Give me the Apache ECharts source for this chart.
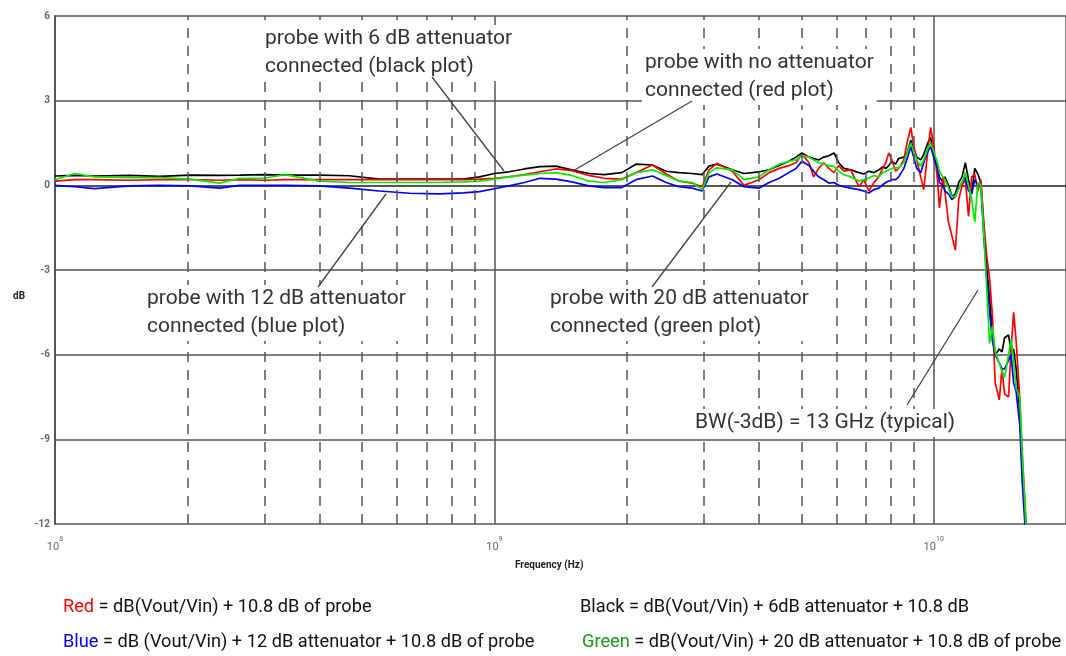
<!DOCTYPE html>
<html><head><meta charset="utf-8">
<script src="https://cdn.jsdelivr.net/npm/echarts@6/dist/echarts.min.js"></script>
<style>html,body{margin:0;padding:0;background:#fff;overflow:hidden;}#c{width:1066px;height:656px;}</style>
</head><body><div id="c"></div>
<script>
// Frequency points (Hz)
const freqHz = [
1e8,1.11e8,1.23e8,1.48e8,1.73e8,2.03e8,2.37e8,2.63e8,3.0e8,3.33e8,
4.0e8,4.68e8,5.47e8,6.41e8,7.5e8,8.5e8,9.25e8,1.0e9,1.08e9,1.17e9,
1.27e9,1.38e9,1.50e9,1.64e9,1.78e9,1.95e9,2.10e9,2.29e9,2.46e9,2.63e9,
2.82e9,2.97e9,3.08e9,3.21e9,3.48e9,3.70e9,4.0e9,4.22e9,4.45e9,4.68e9,
4.86e9,5.01e9,5.20e9,5.33e9,5.47e9,5.62e9,5.77e9,5.93e9,6.08e9,6.24e9,
6.47e9,6.76e9,6.93e9,7.12e9,7.31e9,7.50e9,7.65e9,7.78e9,7.90e9,8.03e9,
8.19e9,8.32e9,8.55e9,8.72e9,8.87e9,9.0e9,9.15e9,9.34e9,9.49e9,9.69e9,
9.84e9,1.0e10,1.02e10,1.03e10,1.05e10,1.06e10,1.08e10,1.10e10,1.12e10,1.14e10,
1.16e10,1.18e10,1.20e10,1.22e10,1.24e10,1.26e10,1.28e10,1.30e10,1.32e10,1.34e10,
1.36e10,1.38e10,1.41e10,1.43e10,1.45e10,1.48e10,1.50e10,1.52e10,1.54e10,1.57e10,
1.59e10,1.62e10,1.64e10];

// Black: probe with 6 dB attenuator
const blackDb = [
0.33,0.35,0.33,0.35,0.32,0.36,0.35,0.36,0.38,0.36,0.36,0.34,0.22,0.22,0.22,0.22,0.30,0.42,
0.48,0.58,0.66,0.68,0.55,0.42,0.38,0.45,0.75,0.72,0.50,0.45,0.42,0.38,0.68,0.75,0.55,0.42,0.48,0.55,0.70,0.85,1.00,1.15,
1.0,0.95,0.9,1.0,1.05,1.15,0.8,0.6,0.55,0.45,0.4,0.5,0.45,0.55,0.65,0.6,0.7,0.85,0.75,0.95,1.0,1.2,1.6,1.3,1.0,0.9,1.1,1.5,1.7,
1.0,0.6,0.3,0.1,0.3,0.0,-0.4,-0.3,0.1,0.3,0.8,0.2,-0.3,0.6,0.4,0.1,-1.5,-2.9,-4.0,-5.2,-6.0,-5.8,-5.9,-5.4,-5.3,-5.9,-5.8,-6.5,-8.0,-10.0,-12.0,-13.5];

// Red: probe with no attenuator
const redDb = [
0.15,0.20,0.20,0.18,0.20,0.20,0.18,0.20,0.18,0.20,0.20,0.20,0.20,0.20,0.20,0.20,0.22,0.25,
0.30,0.38,0.48,0.58,0.52,0.35,0.25,0.22,0.45,0.72,0.40,0.15,0.08,-0.05,0.55,0.78,0.50,0.00,0.20,0.45,0.60,0.70,0.80,1.10,
0.8,0.3,0.6,0.8,0.6,0.45,0.7,0.5,0.55,-0.05,0.2,-0.2,0.1,0.3,0.6,0.8,1.15,0.9,0.5,0.6,0.9,1.6,2.05,1.4,0.9,0.3,-0.15,1.2,2.05,
1.4,0.2,-0.8,0.3,-0.2,-1.3,-1.8,-2.3,-0.5,0.0,0.2,-1.1,0.3,0.4,-0.2,0.2,-1.3,-2.5,-3.3,-4.6,-7.0,-7.6,-6.5,-7.4,-7.5,-5.8,-4.5,-5.5,-7.6,-9.5,-11.8,-13.5];

// Blue: probe with 12 dB attenuator
const blueDb = [
0.00,-0.05,-0.12,-0.02,0.00,-0.02,-0.10,0.00,0.00,0.00,-0.02,-0.10,-0.20,-0.28,-0.30,-0.27,-0.22,-0.12,
-0.02,0.10,0.25,0.22,0.12,-0.02,-0.08,-0.08,0.20,0.33,0.10,-0.05,-0.10,-0.20,0.30,0.40,0.20,-0.05,-0.10,0.10,0.25,0.45,0.60,0.85,
0.7,0.5,0.3,0.2,0.08,0.1,0.0,-0.05,-0.1,-0.15,-0.2,-0.27,-0.15,-0.1,0.02,0.1,0.15,0.2,0.2,0.3,0.6,1.0,1.37,1.0,0.6,0.45,0.8,1.2,1.37,
1.0,0.6,0.1,0.0,-0.2,-0.3,-0.5,-0.4,-0.1,0.1,0.3,-0.2,-0.3,0.2,0.0,0.0,-1.8,-3.2,-4.5,-5.5,-6.0,-6.3,-6.5,-6.5,-6.2,-6.0,-7.0,-7.3,-8.5,-10.5,-12.5,-13.5];

// Green: probe with 20 dB attenuator
const greenDb = [
0.20,0.42,0.30,0.27,0.27,0.22,0.08,0.25,0.25,0.38,0.15,0.10,0.10,0.10,0.10,0.12,0.15,0.22,
0.30,0.36,0.42,0.45,0.35,0.15,0.10,0.20,0.45,0.55,0.35,0.15,0.10,-0.15,0.45,0.62,0.55,0.20,0.30,0.55,0.75,0.85,0.90,1.05,
1.0,0.9,0.8,0.75,0.7,0.67,0.5,0.38,0.3,0.15,0.2,0.27,0.35,0.3,0.45,0.5,0.55,0.6,0.62,0.62,0.8,1.2,1.5,1.2,0.9,0.67,0.9,1.3,1.5,
1.2,0.8,0.5,0.3,0.2,-0.1,-0.4,-0.4,-0.1,0.1,0.45,0.0,-0.5,-1.3,0.1,0.0,-1.7,-3.7,-5.6,-5.0,-5.9,-6.3,-6.6,-6.8,-6.0,-5.45,-6.2,-7.2,-7.5,-9.5,-11.9,-13.5];

// Dashed minor frequency grid lines (Hz)
const minorGridFreqs = [2e8,3e8,4e8,5e8,6e8,7e8,8e8,9e8,2e9,3e9,4e9,5e9,6e9,7e9,8e9,9e9];

const yMin = -12, yMax = 6, yStep = 3;
const xMin = 1e8, xMax = 2e10;

const annotations = [
  {text: 'probe with 6 dB attenuator\nconnected (black plot)', x: 262, y: 25},
  {text: 'probe with no attenuator\nconnected (red plot)', x: 642, y: 49},
  {text: 'probe with 12 dB attenuator\nconnected (blue plot)', x: 144, y: 285},
  {text: 'probe with 20 dB attenuator\nconnected (green plot)', x: 547, y: 285},
  {text: 'BW(-3dB) = 13 GHz (typical)', x: 692, y: 409}
];
const leaders = [
  [432, 77, 504, 171],
  [692, 101, 573, 171],
  [318, 287, 386, 194],
  [652, 287, 731, 182],
  [907, 405, 978, 290]
];

const chart = echarts.init(document.getElementById('c'), null, {renderer: 'canvas', width: 1066, height: 656});
const mk = arr => freqHz.map((f, i) => [f, arr[i]]);
const lineSeries = (name, color, arr) => ({
  name, type: 'line', data: mk(arr), symbol: 'none', smooth: false,
  lineStyle: {color, width: 1.7}, clip: true, animation: false
});

const graphics = [];
annotations.forEach(a => graphics.push({
  type: 'text', x: a.x, y: a.y, z: 100,
  style: {text: a.text, font: '21px Roboto', fill: '#333', lineHeight: 28,
          backgroundColor: '#fff', padding: [0, 3, 0, 3]}
}));
leaders.forEach(l => graphics.push({
  type: 'line', z: 101, shape: {x1: l[0], y1: l[1], x2: l[2], y2: l[3]},
  style: {stroke: '#444', lineWidth: 1.3}
}));
graphics.push({type: 'text', x: 13, y: 291, z: 100,
  style: {text: 'dB', font: 'bold 10px Roboto', fill: '#222'}});
graphics.push({type: 'text', x: 515, y: 560, z: 100,
  style: {text: 'Frequency (Hz)', font: 'bold 10px Roboto', fill: '#222'}});
const foot = [
  {t: '{r|Red} = dB(Vout/Vin) + 10.8 dB of probe', x: 63, y: 598},
  {t: 'Black = dB(Vout/Vin) + 6dB attenuator + 10.8 dB', x: 580, y: 598},
  {t: '{b|Blue} = dB (Vout/Vin) + 12 dB attenuator + 10.8 dB of probe', x: 63, y: 633},
  {t: '{g|Green} = dB(Vout/Vin) + 20 dB attenuator + 10.8 dB of probe', x: 582, y: 633}
];
const footFont = '18.2px Roboto';
foot.forEach(f => graphics.push({type: 'text', x: f.x, y: f.y, z: 100,
  style: {text: f.t, font: footFont, fill: '#111',
    rich: {r: {fill: '#ff0000', font: footFont}, b: {fill: '#0000ff', font: footFont}, g: {fill: '#1a9a1a', font: footFont}}}}));

chart.setOption({
  animation: false,
  backgroundColor: '#fff',
  grid: {left: 55, top: 16, right: 0, bottom: 132, containLabel: false, outerBoundsMode: 'none'},
  xAxis: {
    type: 'log', logBase: 10, min: xMin, max: xMax, interval: 1,
    axisLine: {show: true, lineStyle: {color: '#555', width: 2}},
    axisTick: {show: false},
    splitLine: {show: true, lineStyle: {color: '#555', width: 1.5, type: 'solid'}},
    axisLabel: {
      margin: 12, color: '#556', showMaxLabel: false,
      formatter: v => {
        const e = Math.log10(v);
        if (Math.abs(e - Math.round(e)) > 1e-6) return '';
        return '{b|10}{s|' + Math.round(e) + '}';
      },
      rich: {
        b: {fontSize: 11, fontFamily: 'Roboto', color: '#667', verticalAlign: 'bottom'},
        s: {fontSize: 7, fontFamily: 'Roboto', color: '#667', padding: [0, 0, 10, 0], verticalAlign: 'bottom'}
      }
    }
  },
  yAxis: {
    type: 'value', min: yMin, max: yMax, interval: yStep,
    axisLine: {show: true, lineStyle: {color: '#555', width: 2}},
    axisTick: {show: false},
    splitLine: {show: true, lineStyle: {color: '#555', width: 1.5}},
    axisLabel: {fontSize: 10, fontFamily: 'Roboto', color: '#667', margin: 5, fontWeight: 'bold'}
  },
  graphic: graphics,
  series: [
    Object.assign(lineSeries('Black', '#000000', blackDb), {
      markLine: {
        silent: true, symbol: 'none', animation: false,
        label: {show: false},
        lineStyle: {color: '#555', width: 1.5, type: [10, 8]},
        data: minorGridFreqs.map(f => ({xAxis: f}))
      }
    }),
    lineSeries('Red', '#ff0000', redDb),
    lineSeries('Blue', '#0000ff', blueDb),
    lineSeries('Green', '#00ee00', greenDb)
  ]
});
</script></body></html>
